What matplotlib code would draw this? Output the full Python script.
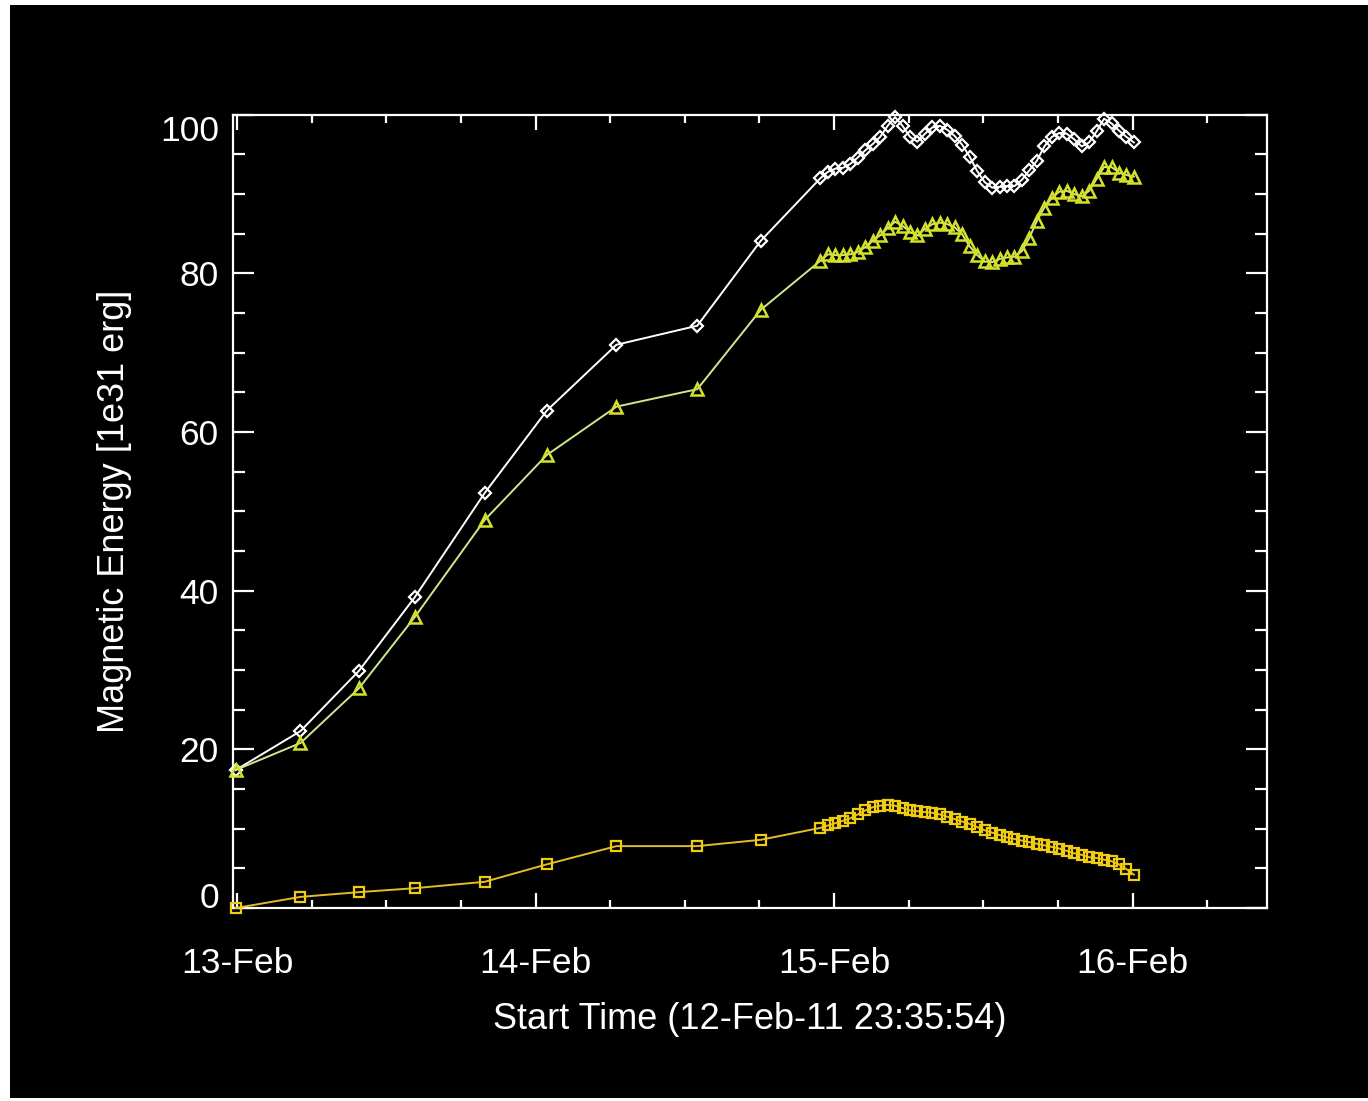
import matplotlib
matplotlib.use("Agg")
import matplotlib.pyplot as plt
from matplotlib.ticker import MultipleLocator, FixedLocator
from matplotlib.patches import Rectangle

# hours since 13-Feb-2011 00:00
times = [-0.1, 5.1, 9.8, 14.3, 19.9, 24.9, 30.5, 37.0, 42.1,
         46.9, 47.5, 48.1, 48.7, 49.3, 49.9, 50.5, 51.1, 51.7, 52.3,
         52.9, 53.5, 54.1, 54.7, 55.3, 55.9, 56.5, 57.1, 57.7, 58.3,
         58.9, 59.5, 60.1, 60.7, 61.3, 61.9, 62.5, 63.1, 63.7, 64.3,
         64.9, 65.5, 66.1, 66.7, 67.3, 67.9, 68.5, 69.1, 69.7, 70.3,
         70.9, 71.5, 72.1]

total_energy = [17.4, 22.3, 29.9, 39.2, 52.3, 62.7, 71.0, 73.4, 84.1,
                92.0, 92.8, 93.2, 93.3, 93.8, 94.6, 95.5, 96.3, 97.2, 98.6,
                99.7, 98.6, 97.2, 96.6, 97.6, 98.4, 98.6, 98.1, 97.3, 96.2,
                94.7, 92.9, 91.5, 90.8, 90.9, 91.0, 91.0, 91.8, 93.0, 94.2,
                96.0, 97.2, 97.7, 97.6, 96.9, 96.0, 96.5, 97.9, 99.5, 98.9,
                98.0, 97.2, 96.5]

potential_energy = [17.4, 20.8, 27.7, 36.7, 48.9, 57.1, 63.2, 65.4, 75.4,
                    81.6, 82.4, 82.3, 82.3, 82.4, 82.7, 83.3, 84.1, 84.8, 85.7,
                    86.5, 86.0, 85.2, 84.8, 85.6, 86.2, 86.4, 86.2, 85.8, 84.9,
                    83.4, 82.3, 81.5, 81.4, 81.8, 82.0, 82.1, 82.8, 84.5, 86.6,
                    88.3, 89.5, 90.3, 90.4, 90.0, 89.7, 90.4, 91.9, 93.4, 93.4,
                    92.7, 92.4, 92.2]

free_energy = [0.0, 1.4, 2.0, 2.5, 3.3, 5.5, 7.8, 7.8, 8.6,
               10.1, 10.4, 10.7, 11.0, 11.3, 11.8, 12.3, 12.7, 12.9, 13.0,
               12.9, 12.6, 12.3, 12.2, 12.1, 12.0, 11.8, 11.5, 11.2, 10.9,
               10.6, 10.2, 9.8, 9.5, 9.2, 8.9, 8.7, 8.5, 8.3, 8.1,
               7.9, 7.7, 7.5, 7.2, 6.9, 6.7, 6.4, 6.3, 6.1, 5.9,
               5.5, 4.9, 4.2]

day_ticks = [0, 24, 48, 72]
day_labels = ["13-Feb", "14-Feb", "15-Feb", "16-Feb"]
y_ticks = [0, 20, 40, 60, 80, 100]
y_labels = ["0", "20", "40", "60", "80", "100"]

plt.rcParams['font.family'] = ['Liberation Sans', 'DejaVu Sans']

fig = plt.figure(figsize=(13.68, 11.01), dpi=100, facecolor='white')
fig.patches.append(Rectangle((10 / 1368, 3 / 1101), 1 - 10 / 1368, 1 - 8 / 1101,
                             transform=fig.transFigure, facecolor='black',
                             edgecolor='none', zorder=-10))

ax = fig.add_axes([232.7 / 1368, 1 - 908 / 1101, (1267 - 232.7) / 1368, (908 - 114.7) / 1101])
ax.set_facecolor('black')

ax.plot(times, total_energy, color='white', lw=1.4, marker='D', ms=6.5,
        mfc='none', mec='white', mew=1.6, clip_on=False, zorder=3)
ax.plot(times, potential_energy, color='#cde88f', lw=1.4, marker='^', ms=8,
        mfc='none', mec='#d4e02a', mew=1.8, clip_on=False, zorder=3)
ax.plot(times, free_energy, color='#e2bd28', lw=1.4, marker='s', ms=7.5,
        mfc='none', mec='#f0cc10', mew=1.6, clip_on=False, zorder=3)

ax.set_xlim(-0.35, 82.8)
ax.set_ylim(0, 100)

ax.xaxis.set_major_locator(FixedLocator(day_ticks))
ax.set_xticklabels(day_labels)
ax.xaxis.set_minor_locator(MultipleLocator(6))
ax.yaxis.set_major_locator(FixedLocator(y_ticks))
ax.set_yticklabels(y_labels)
ax.yaxis.set_minor_locator(MultipleLocator(5))

for s in ax.spines.values():
    s.set_color('white')
    s.set_linewidth(1.6)

ax.tick_params(axis='both', which='both', direction='in', colors='white',
               top=True, right=True, width=1.6, labelsize=25.5)
ax.tick_params(axis='x', which='major', length=11, pad=28)
ax.tick_params(axis='x', which='minor', length=6)
ax.tick_params(axis='y', which='major', length=15, pad=10)
ax.tick_params(axis='y', which='minor', length=8.5)

ylabs = ax.get_yticklabels()
ylabs[0].set_verticalalignment('baseline')
ylabs[-1].set_verticalalignment('top')

ax.set_ylabel("Magnetic Energy [1e31 erg]", color='white', fontsize=26, labelpad=20)
ax.set_xlabel("Start Time (12-Feb-11 23:35:54)", color='white', fontsize=26, labelpad=16)

fig.savefig("out.png", dpi=100, facecolor='white')
